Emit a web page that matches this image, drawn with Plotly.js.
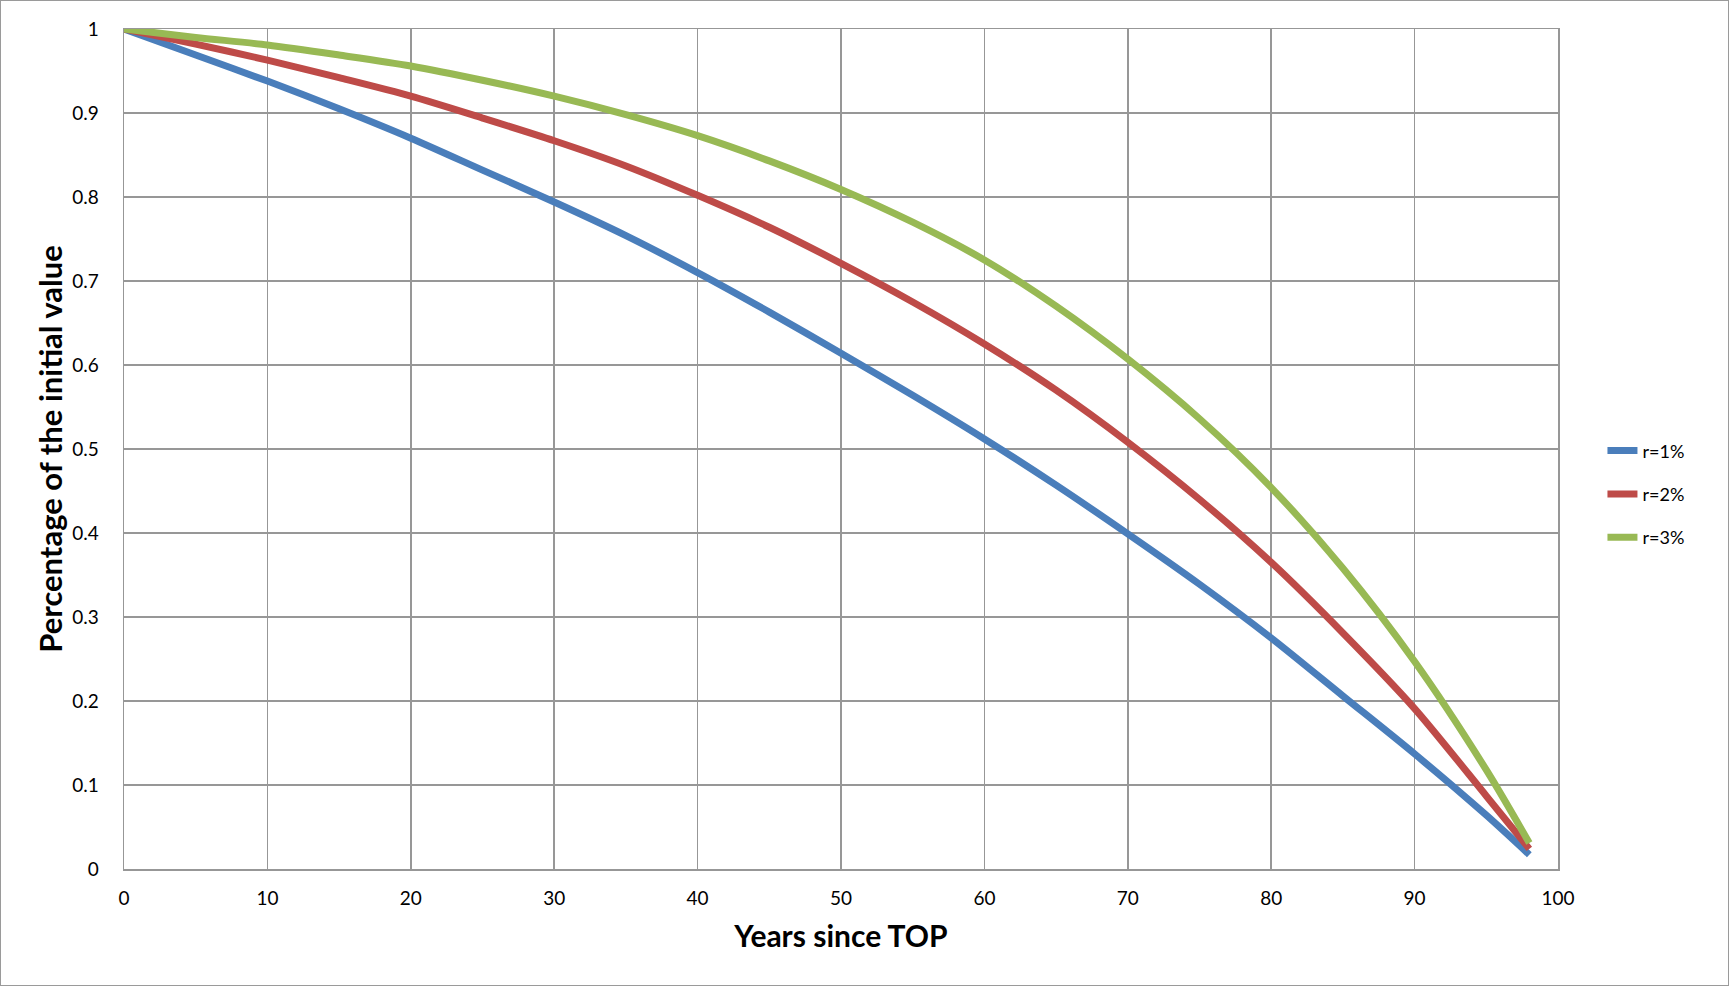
<!DOCTYPE html>
<html>
<head>
<meta charset="utf-8">
<script src="https://cdn.plot.ly/plotly-3.0.1.min.js"></script>
<style>
  html, body { margin: 0; padding: 0; background: #fff; }
  #chart { width: 1727px; height: 984px; border: 1px solid #9a9a9a; }
</style>
</head>
<body>
<div id="chart"></div>
<script>
// Years since TOP
const years = [0, 5, 10, 15, 20, 25, 30, 35, 40, 45, 50, 55, 60, 65, 70, 75, 80, 85, 90, 95, 98];

// Percentage of the initial value
const r1 = [1.000, 0.969, 0.938, 0.905, 0.870, 0.832, 0.794, 0.754, 0.710, 0.663, 0.614, 0.564, 0.512, 0.457, 0.399, 0.339, 0.275, 0.206, 0.137, 0.064, 0.017];
const r2 = [1.000, 0.982, 0.963, 0.942, 0.920, 0.894, 0.867, 0.837, 0.802, 0.764, 0.721, 0.675, 0.625, 0.570, 0.508, 0.440, 0.365, 0.281, 0.191, 0.087, 0.024];
const r3 = [1.000, 0.990, 0.981, 0.969, 0.956, 0.939, 0.920, 0.898, 0.873, 0.843, 0.809, 0.770, 0.725, 0.670, 0.607, 0.536, 0.454, 0.358, 0.247, 0.118, 0.031];

const seriesNames = ["r=1%", "r=2%", "r=3%"];
const seriesColors = ["#4A7EBB", "#BE4B48", "#98B954"];
const seriesValues = [r1, r2, r3];

const traces = seriesValues.map((vals, i) => ({
  x: years,
  y: vals,
  type: "scatter",
  mode: "lines",
  name: seriesNames[i],
  legendgroup: "g" + i,
  line: { color: seriesColors[i], width: 7, shape: "spline", smoothing: 0.8 }
}));

const fontFam = "Lato, 'Open Sans', 'Liberation Sans', sans-serif";

const layout = {
  width: 1727,
  height: 984,
  paper_bgcolor: "#ffffff",
  plot_bgcolor: "#ffffff",
  margin: { l: 123, r: 170, t: 28, b: 116 },
  font: { family: fontFam, color: "#000", size: 19 },
  showlegend: true,
  legend: {
    x: 1.031, xanchor: "left",
    y: 0.446, yanchor: "middle",
    font: { size: 18, family: fontFam, color: "#000" },
    tracegroupgap: 17,
    itemwidth: 30,
    bgcolor: "rgba(0,0,0,0)"
  },
  xaxis: {
    range: [0, 100],
    dtick: 10, tick0: 0,
    showgrid: true, gridcolor: "#979797", gridwidth: 1.5,
    showline: true, linecolor: "#979797", linewidth: 1.5, mirror: true,
    zeroline: false,
    ticks: "", ticklabelstandoff: 12,
    tickfont: { size: 19, family: fontFam },
    title: { text: "<b>Years since TOP</b>", font: { size: 30, family: fontFam }, standoff: 17 },
    automargin: false
  },
  yaxis: {
    range: [0, 1],
    dtick: 0.1, tick0: 0,
    showgrid: true, gridcolor: "#979797", gridwidth: 1.5,
    showline: true, linecolor: "#979797", linewidth: 1.5, mirror: true,
    zeroline: false,
    ticks: "", ticklabelstandoff: 20,
    tickfont: { size: 19, family: fontFam },
    title: { text: "<b>Percentage of the initial value</b>", font: { size: 31, family: fontFam }, standoff: 0 },
    automargin: false
  }
};

Plotly.newPlot("chart", traces, layout, { displayModeBar: false, staticPlot: true });
</script>
</body>
</html>
